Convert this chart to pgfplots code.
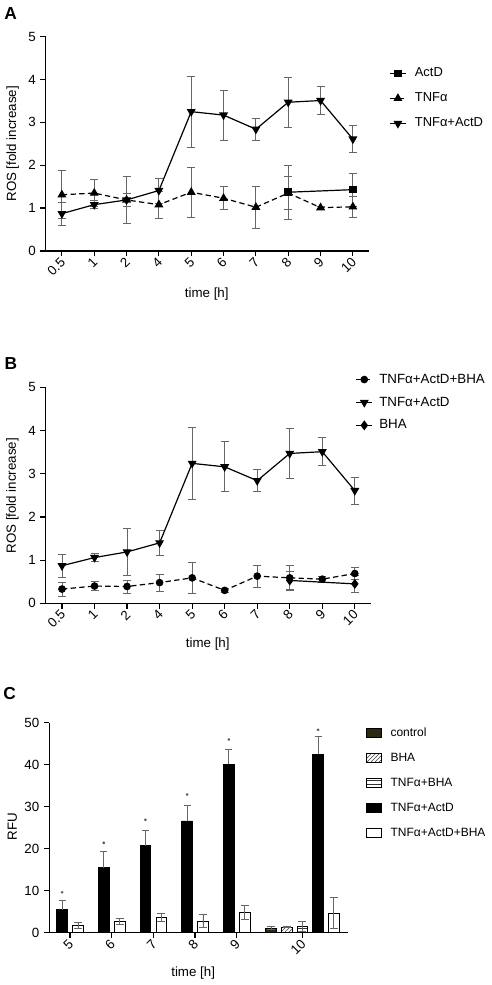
\documentclass[border=0pt]{standalone}
\usepackage{fontspec}
\setmainfont{Liberation Sans}
\usepackage{pgfplots}
\pgfplotsset{compat=1.18}
\usetikzlibrary{patterns}
\definecolor{ctrl}{RGB}{43,42,16}
\pgfplotsset{
  panel/.style={
    scale only axis,
    axis lines*=left,
    axis line style={-, line width=0.9pt},
    tick align=outside, tick pos=left,
    major tick length=4pt,
    tick style={line width=0.9pt, black},
    /pgf/number format/assume math mode=true,
    ticklabel style={font=\fontsize{10}{12}\selectfont},
    label style={font=\fontsize{10}{12}\selectfont},
    x tick label style={rotate=45, anchor=east, xshift=2pt, yshift=-2.5pt},
    legend style={draw=none, fill=none, font=\fontsize{10}{12}\selectfont, inner sep=0pt},
    legend cell align=left,
  },
  lineleg/.style={legend image code/.code={\draw[##1, mark repeat=2, mark phase=2] plot coordinates {(0cm,0cm)(0.21cm,0cm)(0.42cm,0cm)}; \path (#1,0);}},
  eb/.style={error bars/y dir=both, error bars/y explicit,
    error bars/error bar style={black!60, line width=0.6pt, solid},
    error bars/error mark options={rotate=90, mark size=3pt, black!60, line width=0.6pt, solid}},
  ebp/.style={error bars/y dir=plus, error bars/y explicit,
    error bars/error bar style={black!60, line width=0.6pt, solid},
    error bars/error mark options={rotate=90, mark size=2.6pt, black!60, line width=0.6pt, solid}},
}
\begin{document}
\begin{tikzpicture}
\useasboundingbox (0,0) rectangle (369pt,-738.75pt);
\node[font=\bfseries\fontsize{13}{15}\selectfont] at (8pt,-10pt) {A};
\node[font=\bfseries\fontsize{13}{15}\selectfont] at (8.2pt,-272.3pt) {B};
\node[font=\bfseries\fontsize{13}{15}\selectfont] at (7.2pt,-520.5pt) {C};

% Panel A
\begin{axis}[panel, lineleg=0.57cm,
  at={(34.3pt,-27.5pt)}, anchor=north west,
  width=242.5pt, height=160.7pt,
  xmin=-0.5, xmax=9.5, ymin=0, ymax=5,
  xtick={0,...,9}, xticklabels={0.5,1,2,4,5,6,7,8,9,10},
  ytick={0,...,5},
  xlabel={time [h]}, ylabel={ROS [fold increase]},
  xlabel style={at={(axis description cs:0.498,-0.2)}, anchor=center},
  ylabel style={at={(axis description cs:-0.102,0.5)}, anchor=center, rotate=0},
  legend style={at={(axis description cs:1.062,0.712)}, anchor=west, row sep=6.6pt, font=\fontsize{9.7}{12}\selectfont},
]
\addplot[black, line width=0.9pt, mark=square*, mark size=2.4pt, mark options={solid}, eb]
 coordinates {(7,1.37)+-(0,0.63) (9,1.43)+-(0,0.38)};
\addlegendentry{ActD}
\addplot[black, line width=0.9pt, dash pattern=on 4pt off 2.5pt, mark=triangle*, mark size=3pt, mark options={solid}, eb]
 coordinates {(0,1.31)+-(0,0.56) (1,1.35)+-(0,0.31) (2,1.19)+-(0,0.15) (3,1.08)+-(0,0.32) (4,1.37)+-(0,0.59) (5,1.23)+-(0,0.27) (6,1.02)+-(0,0.49) (7,1.35)+-(0,0.38) (8,1.01)+-(0,0.03) (9,1.03)+-(0,0.25)};
\addlegendentry{TNFα}
\addplot[black, line width=0.9pt, mark=triangle*, mark size=3pt, mark options={solid, rotate=180}, eb]
 coordinates {(0,0.87)+-(0,0.27) (1,1.08)+-(0,0.09) (2,1.19)+-(0,0.55) (3,1.41)+-(0,0.29) (4,3.25)+-(0,0.83) (5,3.17)+-(0,0.58) (6,2.84)+-(0,0.25) (7,3.47)+-(0,0.58) (8,3.51)+-(0,0.32) (9,2.61)+-(0,0.31)};
\addlegendentry{TNFα+ActD}
\end{axis}

% Panel B
\begin{axis}[panel, lineleg=0.52cm,
  at={(34.3pt,-290.5pt)}, anchor=north west,
  width=244pt, height=162pt,
  xmin=-0.5, xmax=9.5, ymin=0, ymax=5,
  xtick={0,...,9}, xticklabels={0.5,1,2,4,5,6,7,8,9,10},
  ytick={0,...,5},
  xlabel={time [h]}, ylabel={ROS [fold increase]},
  xlabel style={at={(axis description cs:0.498,-0.19)}, anchor=center},
  ylabel style={at={(axis description cs:-0.102,0.498)}, anchor=center, rotate=0},
  legend style={at={(axis description cs:0.952,0.93)}, anchor=west, row sep=4.8pt},
]
\addplot[black, line width=0.9pt, dash pattern=on 4pt off 2.5pt, mark=*, mark size=2.4pt, mark options={solid}, eb]
 coordinates {(0,0.33)+-(0,0.16) (1,0.40)+-(0,0.10) (2,0.39)+-(0,0.15) (3,0.48)+-(0,0.20) (4,0.59)+-(0,0.36) (5,0.30)+-(0,0.05) (6,0.63)+-(0,0.25) (7,0.59)+-(0,0.28) (8,0.56)+-(0,0.07) (9,0.69)+-(0,0.14)};
\addlegendentry{TNFα+ActD+BHA}
\addplot[black, line width=0.9pt, mark=triangle*, mark size=3pt, mark options={solid, rotate=180}, eb]
 coordinates {(0,0.87)+-(0,0.27) (1,1.06)+-(0,0.09) (2,1.19)+-(0,0.55) (3,1.40)+-(0,0.29) (4,3.24)+-(0,0.83) (5,3.16)+-(0,0.58) (6,2.84)+-(0,0.25) (7,3.47)+-(0,0.58) (8,3.51)+-(0,0.32) (9,2.61)+-(0,0.31)};
\addlegendentry{TNFα+ActD}
\addplot[black, line width=0.9pt, mark=diamond*, mark size=3pt, mark options={solid}, eb]
 coordinates {(7,0.53)+-(0,0.20) (9,0.45)+-(0,0.20)};
\addlegendentry{BHA}
\end{axis}

% Panel C
\begin{axis}[panel,
  at={(37pt,-542pt)}, anchor=north west,
  width=223.8pt, height=157.5pt,
  xmin=-0.496, xmax=6.664, ymin=0, ymax=50,
  xtick={0,1,2,3,4,5.576}, xticklabels={5,6,7,8,9,10},
  ytick={0,10,...,50},
  xlabel={time [h]}, ylabel={RFU},
  xlabel style={at={(axis description cs:0.482,-0.19)}, anchor=center},
  ylabel style={at={(axis description cs:-0.124,0.505)}, anchor=center, rotate=0},
  ybar, bar width=0.256, bar shift=0pt,
  legend image code/.code={\draw[#1, line width=0.6pt] (0cm,-0.11cm) rectangle (0.39cm,0.13cm); \path (0.55cm,0);},
  legend style={at={(axis description cs:1.061,0.713)}, anchor=west, row sep=7pt, font=\fontsize{9}{11}\selectfont},
]
\addplot[draw=black, line width=0.6pt, fill=ctrl, eb]
 coordinates {(4.824,1.1)+-(0,0.4)};
\addlegendentry{control}
\addplot[draw=black, line width=0.6pt, pattern=north east lines, pattern color=black!75, eb]
 coordinates {(5.2,1.35)+-(0,0.2)};
\addlegendentry{BHA}
\addplot[draw=black, line width=0.6pt, pattern=horizontal lines, pattern color=black!80, eb]
 coordinates {(5.576,1.5)+-(0,1.2)};
\addlegendentry{TNFα+BHA}
\addplot[draw=black, line width=0.6pt, fill=black, ebp]
 coordinates {(-0.19,5.5)+-(0,2.1) (0.81,15.5)+-(0,3.9) (1.81,20.7)+-(0,3.6) (2.81,26.6)+-(0,3.7) (3.81,40.1)+-(0,3.6) (5.952,42.5)+-(0,4.2)};
\addlegendentry{TNFα+ActD}
\addplot[draw=black, line width=0.6pt, fill=white, eb]
 coordinates {(0.19,1.75)+-(0,0.7) (1.19,2.7)+-(0,0.7) (2.19,3.7)+-(0,0.9) (3.19,2.8)+-(0,1.5) (4.19,4.8)+-(0,1.7) (6.328,4.7)+-(0,3.6)};
\addlegendentry{TNFα+ActD+BHA}
\addplot[only marks, mark=asterisk, mark size=1pt, black!70, forget plot]
 coordinates {(-0.19,9.6) (0.81,21.4) (1.81,26.9) (2.81,32.9) (3.81,46.0) (5.952,48.3)};
\end{axis}
\end{tikzpicture}
\end{document}
